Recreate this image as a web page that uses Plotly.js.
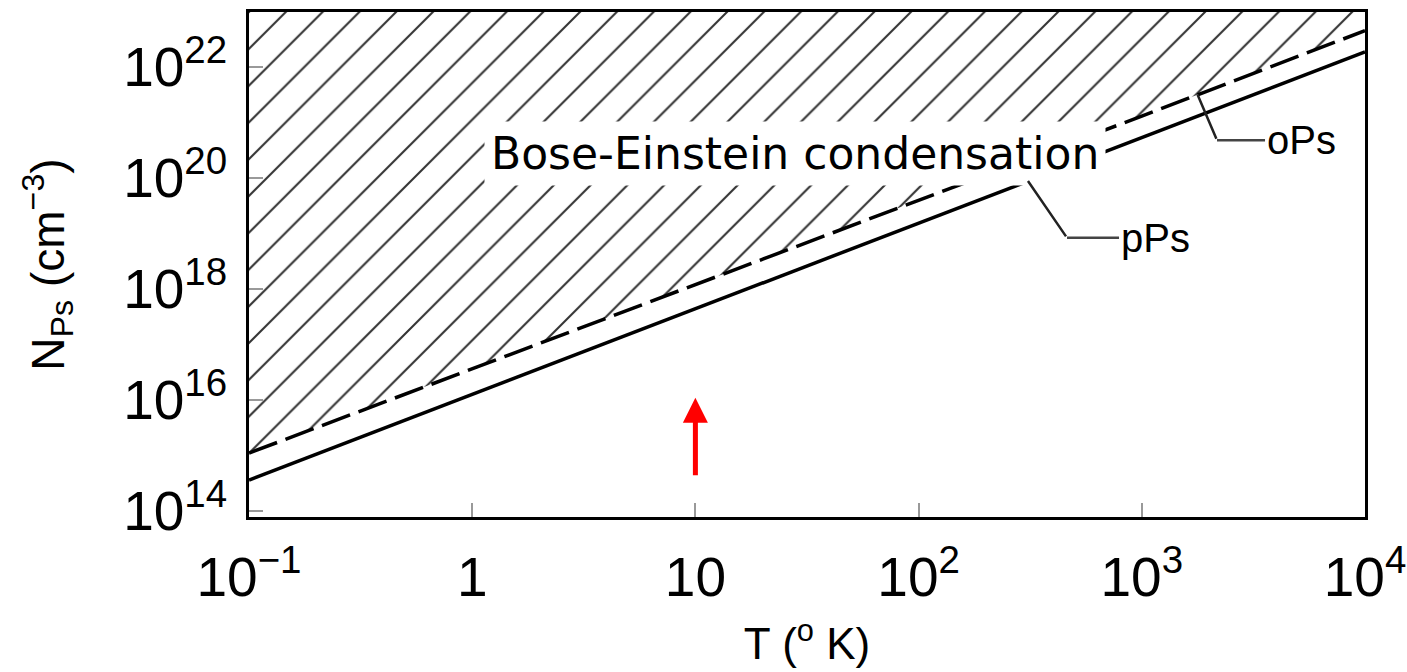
<!DOCTYPE html>
<html>
<head>
<meta charset="utf-8">
<script src="https://cdn.plot.ly/plotly-3.0.1.min.js"></script>
<style>html,body{margin:0;padding:0;background:#fff;}#chart{width:1407px;height:672px;}</style>
</head>
<body>
<div id="chart"></div>
<script>
// Temperature (K)
const T = [0.1, 1, 10, 100, 1000, 10000];
// Critical density for para-positronium (cm^-3)
const N_pPs = [3.6e14, 1.26e16, 4.4e17, 1.55e19, 5.4e20, 1.86e22];
// Critical density for ortho-positronium (cm^-3)
const N_oPs = [1.1e15, 3.6e16, 1.2e18, 4.0e19, 1.3e21, 4.5e22];
// Upper boundary of the hatched condensation region
const N_top = [1e23, 1e23, 1e23, 1e23, 1e23, 1e23];

const xRange = [-1, 4];
const yRange = [13.89, 22.99];

// log-space interpolation helper for label leader positions
function logInterp(xs, ys, lx) {
  const L = xs.map(Math.log10), M = ys.map(Math.log10);
  for (let i = 0; i < L.length - 1; i++) {
    if (lx >= L[i] && lx <= L[i + 1]) {
      const f = (lx - L[i]) / (L[i + 1] - L[i]);
      return M[i] + f * (M[i + 1] - M[i]);
    }
  }
  return M[M.length - 1];
}

const FONT = 'Liberation Sans, Arial, sans-serif';
const tickFont = {family: FONT, size: 44, color: '#000'};

const traces = [
  {x: T, y: N_top, mode: 'lines', line: {width: 0}, hoverinfo: 'skip', showlegend: false},
  {x: T, y: N_oPs, mode: 'lines', fill: 'tonexty', fillcolor: 'rgba(0,0,0,0)',
   fillpattern: {shape: '/', size: 26, solidity: 0.08, fgcolor: '#333', fgopacity: 1},
   line: {color: '#000', width: 3.5, dash: '30px,9px'}, name: 'oPs', showlegend: false},
  {x: T, y: N_pPs, mode: 'lines', line: {color: '#000', width: 3.5}, name: 'pPs', showlegend: false}
];

const oPsPt = 3.25, oPsElbow = [3.337, 20.68];
const pPsPt = 2.49, pPsElbow = [2.665, 18.92];

const layout = {
  width: 1407, height: 672,
  margin: {l: 249, r: 42, t: 12, b: 155},
  paper_bgcolor: '#fff', plot_bgcolor: '#fff',
  showlegend: false,
  xaxis: {
    type: 'log', range: xRange, dtick: 1, exponentformat: 'power',
    showgrid: false, zeroline: false,
    showline: true, linecolor: '#000', linewidth: 3, mirror: true,
    ticks: 'inside', ticklen: 14, tickwidth: 2, tickcolor: '#999',
    tickfont: tickFont, ticklabelstandoff: 12,
    title: {text: 'T (<sup>o</sup> K)', font: {family: FONT, size: 44, color: '#000'}, standoff: 22}
  },
  yaxis: {
    type: 'log', range: yRange, dtick: 2, exponentformat: 'power',
    showgrid: false, zeroline: false,
    showline: true, linecolor: '#000', linewidth: 3, mirror: true,
    ticks: 'inside', ticklen: 14, tickwidth: 2, tickcolor: '#999',
    tickfont: tickFont, ticklabelstandoff: 10,
    title: {text: 'N<sub>Ps</sub> (cm<sup>−3</sup>)', font: {family: FONT, size: 46, color: '#000'}, standoff: 45}
  },
  annotations: [
    {xref: 'paper', yref: 'paper', x: 0.489, y: 0.784, text: 'Bose-Einstein condensation',
     showarrow: false, bgcolor: '#fff', borderpad: 6,
     font: {family: 'DejaVu Sans, sans-serif', size: 44, color: '#000'}},
    // oPs leader
    {x: oPsPt, y: logInterp(T, N_oPs, oPsPt), axref: 'x', ayref: 'y', ax: oPsElbow[0], ay: oPsElbow[1],
     text: '', showarrow: true, arrowhead: 0, arrowwidth: 2.5, arrowcolor: '#222', standoff: 0},
    {x: oPsElbow[0], y: oPsElbow[1], ax: 84, ay: 0, text: 'oPs', showarrow: true, arrowhead: 0,
     arrowwidth: 2.5, arrowcolor: '#444', standoff: 0,
     font: {family: FONT, size: 40, color: '#000'}},
    // pPs leader
    {x: pPsPt, y: logInterp(T, N_pPs, pPsPt), axref: 'x', ayref: 'y', ax: pPsElbow[0], ay: pPsElbow[1],
     text: '', showarrow: true, arrowhead: 0, arrowwidth: 2.5, arrowcolor: '#222', standoff: 0},
    {x: pPsElbow[0], y: pPsElbow[1], ax: 88, ay: 0, text: 'pPs', showarrow: true, arrowhead: 0,
     arrowwidth: 2.5, arrowcolor: '#444', standoff: 0,
     font: {family: FONT, size: 40, color: '#000'}},
    // red arrow at T = 10 K
    {x: 1, y: 16.04, ax: 0, ay: 79, text: '', showarrow: true, arrowhead: 2, arrowsize: 1,
     arrowwidth: 5, arrowcolor: '#ff0000', standoff: 0}
  ]
};

Plotly.newPlot('chart', traces, layout, {displayModeBar: false, staticPlot: true});
</script>
</body>
</html>
